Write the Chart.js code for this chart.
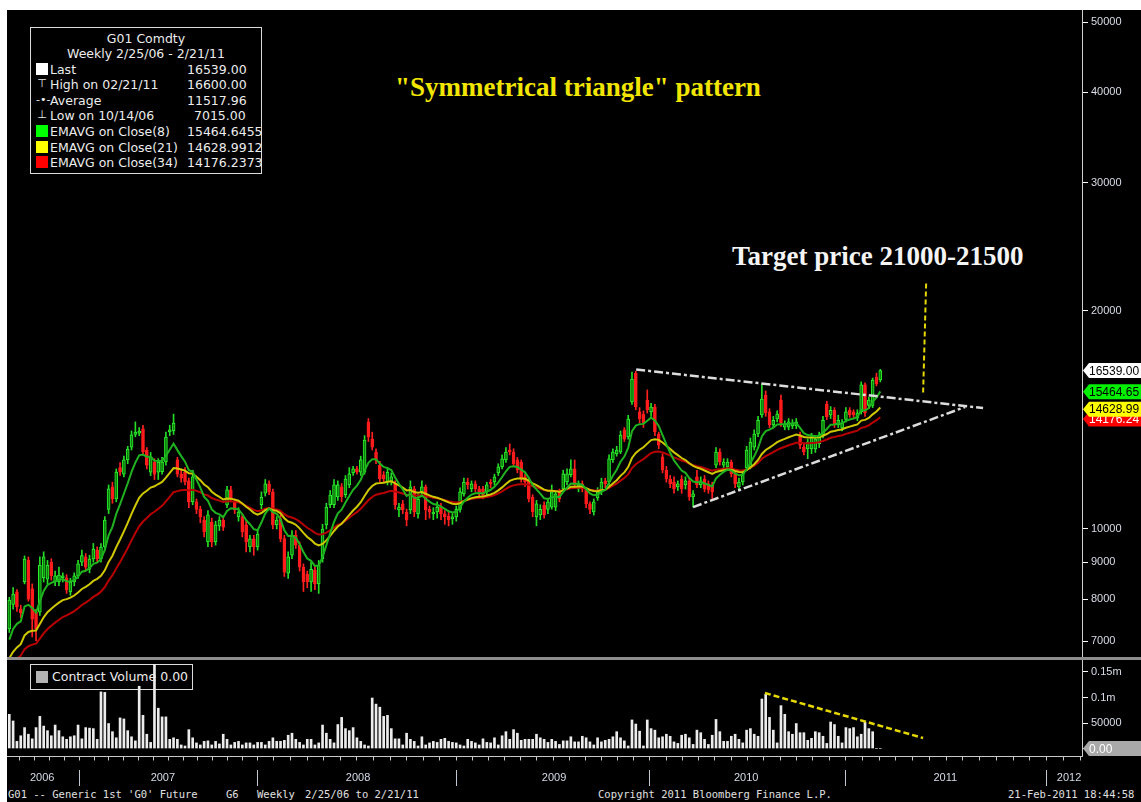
<!DOCTYPE html>
<html>
<head>
<meta charset="utf-8">
<title>G01 Comdty weekly</title>
<script src="https://cdn.jsdelivr.net/npm/chart.js@4.4.1/dist/chart.umd.min.js"></script>
<style>
  body { margin: 0; background: #fff; width: 1141px; height: 802px; overflow: hidden; }
  #panel { position: absolute; left: 7px; top: 10px; width: 1134px; height: 792px; background: #000; overflow: hidden;
           font-family: "DejaVu Sans", sans-serif; color: #ececec; }
  canvas { position: absolute; left: 0; z-index: 2; }
  #price { top: 0; }
  #volume { top: 650px; }
  #split { position: absolute; left: 0; top: 647px; width: 1134px; height: 3px; background: #8e8e8e; z-index: 3; }
  .box { position: absolute; border: 1px solid #dcdcdc; z-index: 1; font-size: 12.5px; white-space: nowrap; }
  .box .c { position: absolute; left: 0; width: 100%; text-align: center; line-height: 15px; }
  .row { position: absolute; left: 0; right: 0; height: 15px; line-height: 15px; }
  .ico { position: absolute; left: 5px; top: 1px; width: 12px; height: 12px; text-align: center; font-size: 11px; line-height: 12px; }
  .lab { position: absolute; left: 19px; }
  .val { position: absolute; left: 156px; }
  .note { position: absolute; z-index: 1; font-family: "Liberation Serif", serif; font-weight: bold; white-space: nowrap; }
  #foot span { position: absolute; top: 777px; line-height: 14px; font-family: "DejaVu Sans Mono", monospace; font-size: 10.5px; color: #e0e0e0; white-space: pre; }
</style>
</head>
<body>
<div id="panel">
  <div class="box" id="legend" style="left:23px;top:17px;width:230px;height:145px;">
    <div class="c" style="top:3px">G01 Comdty</div>
    <div class="c" style="top:18px">Weekly 2/25/06 - 2/21/11</div>
  </div>
  <div class="box" style="left:23px;top:654px;width:161px;height:24px;">
    <div class="ico" style="left:5px;top:6px;background:#b4b4b4"></div>
    <div class="lab" style="left:21px;top:4px">Contract Volume 0.00</div>
  </div>
  <div class="note" style="left:388px;top:62px;font-size:27px;color:#f2e600">"Symmetrical triangle" pattern</div>
  <div class="note" style="left:725px;top:231px;font-size:27px;color:#f4f4f4">Target price 21000-21500</div>
  <canvas id="price" width="1134" height="647"></canvas>
  <div id="split"></div>
  <canvas id="volume" width="1134" height="130"></canvas>
  <div id="foot">
    <span style="left:1px">G01 -- Generic 1st 'G0' Future</span>
    <span style="left:219px">G6</span>
    <span style="left:250px">Weekly</span>
    <span style="left:298px">2/25/06 to 2/21/11</span>
    <span style="left:591px">Copyright 2011 Bloomberg Finance L.P.</span>
    <span style="left:1001px">21-Feb-2011 18:44:58</span>
  </div>
</div>

<script>
// weekly candles (Sep 2006 - Feb 2011)
const opens = [
  7280,7870,8190,7760,8450,9060,8270,7680,7680,8560,
  8530,9005,8450,8450,8560,8560,8190,8450,8620,9000,
  9150,8800,9090,9350,9090,9445,10640,11430,11000,12150,
  11900,12450,12970,13500,13550,13740,12850,11980,12370,11980,
  12000,12370,13610,13650,12450,11900,11980,11650,10900,10900,
  10640,10290,9600,10225,9600,10100,10290,10790,11320,10900,
  10390,10390,10130,9445,9690,9445,10800,11200,11540,11250,
  10130,10330,9700,8690,9200,9810,9500,8860,8660,8450,
  8780,8400,9100,10130,10800,10800,11070,11430,11150,11500,
  11950,12100,11980,11980,14050,13300,12770,12250,11880,11610,
  11610,11540,10620,10830,10555,10620,11360,10490,11250,11430,
  10640,10500,10555,10720,10490,10420,10330,10390,10640,11180,
  11610,11360,11540,11360,11360,11250,11610,11610,11950,12180,
  12450,12850,12770,12450,12370,11800,11650,11070,10390,10460,
  10790,10640,10720,10720,11250,11360,11610,11880,12100,11360,
  11540,11320,10830,10555,11040,11250,11650,11610,12450,12690,
  12770,13700,13390,14970,16400,14500,14400,15060,14500,14730,
  13500,12570,12060,11720,11610,11430,11720,11500,11650,11070,
  11800,11500,11720,11540,11500,12250,12770,12250,12180,12370,
  11910,11430,11610,12150,12180,12970,13520,14360,15300,14500,
  13920,14180,15060,13820,13820,13870,13870,13480,12970,12890,
  12890,12890,13100,13480,14850,14360,14580,13920,13780,14160,
  14580,14500,14230,14500,15800,14800,14800,16200,16050
];
const closes = [
  7980,8130,7810,7660,9090,8000,7510,7280,8920,9150,
  8920,8620,8620,8640,8620,8240,8450,8620,8950,9190,
  8860,9090,9380,9090,9445,10290,11360,11000,11980,11980,
  12450,12890,13480,13600,13650,12770,12250,12570,11900,12370,
  12370,13390,13700,14000,11900,11750,11610,10900,11800,10640,
  10390,9905,10460,9600,10130,10290,10060,11320,11000,10620,
  10555,9905,9600,9690,9445,9840,11070,11540,11250,10130,
  10290,9700,8720,9150,9810,9500,8860,8450,8450,8800,
  8400,8920,10000,10720,11140,11500,11500,11070,11720,11910,
  12100,12000,12450,13260,13390,12970,12450,11720,11720,11980,
  11800,10800,10720,10620,10290,11430,10555,11000,11430,10620,
  10555,10540,10720,10490,10390,10300,10390,10640,11250,11610,
  11500,11540,11360,11250,11140,11500,11540,11800,12180,12490,
  12770,12770,12300,12060,11720,11610,11000,10555,10830,10640,
  10460,10900,11250,11180,11000,11910,11910,12100,11500,11540,
  11360,10830,10640,10900,11250,11610,11540,12490,12770,12850,
  13470,13300,14180,16100,14730,14180,14000,14600,14730,13610,
  13050,12060,11720,11540,11360,11540,11360,11650,11070,11180,
  11500,11650,11360,11320,11250,12770,12370,12370,12370,11910,
  11540,11610,11910,12850,13180,13520,14120,15100,14450,13920,
  14120,14400,14000,13950,14050,14000,14050,13050,12770,13180,
  13390,13300,13480,14120,14270,14580,13960,14120,14000,14500,
  14360,14360,14450,15800,14450,15060,16050,15850,16539
];
const highs = [
  8050,8300,8250,7850,9180,9150,8400,7750,9150,9300,
  9050,9100,8750,8860,8700,8650,8550,8700,9050,9350,
  9250,9200,9550,9450,9550,10400,11500,11600,12100,12350,
  12600,13000,13650,14050,13800,13900,12950,12750,12500,12500,
  12550,13600,13900,14400,12550,12100,12150,11750,12050,11000,
  10750,10400,10600,10350,10250,10400,10400,11450,11450,11000,
  10700,10500,10250,9800,9800,9950,11250,11700,11650,11350,
  10400,10450,9800,9300,9950,9950,9600,8950,8750,9000,
  8900,9050,10150,10850,11300,11700,11650,11550,11850,12150,
  12200,12200,12600,13450,14200,13600,12900,12400,12000,12150,
  11950,11650,10850,10950,10650,11650,11450,11150,11650,11500,
  10750,10700,10900,10850,10600,10550,10500,10750,11400,11750,
  11750,11650,11650,11450,11450,11600,11700,11900,12300,12650,
  12950,13100,12900,12550,12450,11900,11750,11150,10950,10800,
  10900,11000,11500,11300,11350,12050,12100,12450,12450,11650,
  11650,11400,10900,11000,11400,11750,11750,12650,12900,13000,
  13650,13800,14350,16450,16500,14700,14550,15550,14900,14850,
  13600,12700,12200,11850,11800,11650,11850,11800,11750,11300,
  12050,11800,11850,11650,11600,12950,12900,12500,12500,12450,
  12000,11750,12050,13000,13350,13700,14300,15850,15500,14650,
  14300,14550,15300,14100,14200,14150,14200,13600,13100,13300,
  13550,13450,13600,14300,15000,14750,14700,14350,14150,14700,
  14700,14600,14600,15950,15900,15200,16150,16400,16600
];
const lows = [
  7200,7750,7700,7550,8400,7950,7100,7015,7600,8450,
  8400,8500,8350,8350,8450,8150,8100,8350,8550,8900,
  8750,8700,9000,9000,9000,9350,10500,10850,10900,11850,
  11800,12300,12850,13400,13450,12650,12100,11850,11700,11700,
  11900,12250,13450,13500,11800,11600,11500,10700,10800,10500,
  10200,9750,9450,9450,9500,9950,9950,10700,10900,10500,
  10250,9750,9300,9300,9200,9350,10650,11100,11150,10000,
  10000,9600,8600,8550,9100,9400,8750,8200,8300,8200,
  8250,8150,9000,10000,10700,10700,10950,10900,11050,11400,
  11850,11900,11850,11900,13200,12850,12300,11600,11600,11500,
  11500,10650,10400,10500,10100,10500,10400,10350,11100,10300,
  10350,10300,10350,10300,10150,10100,10150,10250,10550,11100,
  11350,11250,11250,11100,11000,11150,11400,11500,11850,12100,
  12350,12650,12200,11950,11600,11450,10900,10400,10100,10300,
  10350,10500,10650,10600,10900,11250,11500,11800,11400,11250,
  11250,10700,10500,10450,10950,11150,11400,11500,12350,12600,
  12700,13200,13300,14850,14600,14000,13800,14450,14300,13450,
  12900,11950,11600,11400,11200,11300,11200,11350,10950,10720,
  11400,11400,11250,11200,11000,12150,12250,12150,12050,11800,
  11400,11300,11500,12050,12100,12850,13400,14250,14300,13800,
  13800,14050,13850,13700,13700,13750,13750,12900,12650,12500,
  12700,12750,12950,13350,14150,14200,13800,13800,13650,14050,
  14250,14250,14100,14400,14300,14650,14700,15750,15950
];
// contract volume per week, in thousands
const volumeK = [
  67,54,14,25,41,28,19,41,63,44, 35,25,46,35,23,18,23,25,46,19,
  41,40,39,18,111,110,49,33,21,60, 58,35,23,15,122,65,28,12,165,79,
  62,62,18,21,18,7,5,37,21,11, 7,14,15,7,14,9,28,18,7,12,
  14,7,11,11,7,12,12,7,14,21, 14,14,16,26,30,18,12,7,18,18,
  7,11,46,30,18,11,47,61,39,35, 41,21,14,7,5,99,87,81,63,65,
  39,19,19,7,30,18,14,5,23,7, 11,14,12,18,20,14,12,11,7,5,
  18,14,11,7,19,12,11,21,7,25, 33,18,37,30,16,18,18,18,28,21,
  18,12,18,14,
  8,15,15,23,13,13,24,21,13,7, 21,13,16,18,23,33,21,15,5,56,
  48,34,5,56,39,36,21,23,28,24, 13,10,26,28,21,8,36,31,18,8,
  26,57,33,14,14,24,28,18,11,36, 39,28,24,97,106,61,36,11,84,67,
  33,28,49,31,31,16,20,33,31,24, 10,52,47,24,11,41,39,41,23,28,
  52,39,33,0,0
];

const emaSpans = [8, 21, 34];
const emaSeeds = [6770, 6500, 6370];          // level of each average just before the first visible week
const emaColors = ['#1fb41f', '#cfc800', '#b80000'];
const emaLast = [15464.6455, 14628.9912, 14176.2373];

const priceTicks = [7000, 8000, 9000, 10000, 20000, 30000, 40000, 50000];
const volTicks = [0, 25000, 50000, 75000, 100000, 125000, 150000];
const volTickText = { 50000: '50000', 100000: '0.1m', 150000: '0.15m' };

// time axis, in week units of the candle index
const yearLabels = ['2006', '2007', '2008', '2009', '2010', '2011', '2012'];
const yearLabelPos = [8.6, 40.2, 91.3, 142.6, 192.9, 245.0, 277.4];
const yearSepPos = [18.2, 64.8, 116.9, 167.5, 218.8, 271.4];

// hand-drawn annotations [week, value]
const triUpper = [[164.1, 16590], [254.9, 14680]];
const triLower = [[179.0, 10720], [250.2, 14730]];
const targetLine = [[240.0, 21800], [239.2, 15350]];
const volTrend = [[197.8, 108800], [239.2, 20600]];

const legendRows = [
  { label: 'Last', value: '16539.00', icon: 'sq', color: '#ffffff' },
  { label: 'High on 02/21/11', value: '16600.00', icon: '\u22A4' },
  { label: 'Average', value: '11517.96', icon: '-\u2022-' },
  { label: 'Low on 10/14/06', value: '7015.00', icon: '\u22A5', pad: 7 },
  { label: 'EMAVG on Close(8)', value: '15464.6455', icon: 'sq', color: '#00ff00' },
  { label: 'EMAVG on Close(21)', value: '14628.9912', icon: 'sq', color: '#ffff00' },
  { label: 'EMAVG on Close(34)', value: '14176.2373', icon: 'sq', color: '#ff0000' }
];

const X_MIN = -0.6, X_MAX = 280.8;
const Y_MIN = 6660, Y_MAX = 51950;
const AXIS_W = 59;

// legend box rows
const legend = document.getElementById('legend');
legendRows.forEach((r, i) => {
  const row = document.createElement('div');
  row.className = 'row';
  row.style.top = (33.5 + 15.6 * i) + 'px';
  const ico = r.icon === 'sq'
    ? `<div class="ico" style="background:${r.color}"></div>`
    : `<div class="ico">${r.icon}</div>`;
  row.innerHTML = `${ico}<span class="lab">${r.label}</span><span class="val" style="margin-left:${r.pad || 0}px">${r.value}</span>`;
  legend.appendChild(row);
});

function ema(values, span, seed) {
  const k = 2 / (span + 1);
  let prev = seed;
  return values.map(v => (prev = prev + k * (v - prev)));
}
const pts = arr => arr.map(([x, y]) => ({ x, y }));

const upFill = '#0b7d0b', upLine = '#2df02d', dnFill = '#ff1c1c';
const idx = closes.map((_, i) => i);
const isUp = idx.map(i => closes[i] >= opens[i]);

// fixed axis width and no label overhang, so both panels share one x range
const fixWidth = s => { s.width = AXIS_W; s.paddingTop = 0; s.paddingBottom = 0; };
const dashed = (data, color, width, dash) => ({
  type: 'line', data: pts(data), borderColor: color, borderWidth: width,
  borderDash: dash, pointRadius: 0, order: 0
});

function tag(ctx, x, y, text, bg, fg) {
  ctx.beginPath();
  ctx.moveTo(x, y);
  ctx.lineTo(x + 6, y - 7.5);
  ctx.lineTo(x + 80, y - 7.5);
  ctx.lineTo(x + 80, y + 7.5);
  ctx.lineTo(x + 6, y + 7.5);
  ctx.closePath();
  ctx.fillStyle = bg;
  ctx.fill();
  ctx.fillStyle = fg;
  ctx.font = '12px "Liberation Sans"';
  ctx.textBaseline = 'middle';
  ctx.textAlign = 'left';
  ctx.fillText(text, x + 6, y + 1);
}

const priceTags = {
  id: 'priceTags',
  afterDraw(chart) {
    const { ctx, chartArea: a, scales: { y } } = chart;
    const x = a.right + 1;
    ctx.save();
    for (let k = emaLast.length - 1; k >= 0; k--) {
      const bg = ['#00f000', '#ffff00', '#ff0000'][k];
      tag(ctx, x, y.getPixelForValue(emaLast[k]), emaLast[k].toFixed(2), bg, k === 2 ? '#ffffff' : '#000000');
    }
    const last = closes[closes.length - 1];
    tag(ctx, x, y.getPixelForValue(last), last.toFixed(2), '#ffffff', '#000000');
    ctx.restore();
  }
};

new Chart(document.getElementById('price'), {
  type: 'bar',
  data: {
    datasets: [
      dashed(triUpper, '#dcdcdc', 2.5, [9, 3, 3, 3]),
      dashed(triLower, '#dcdcdc', 2.5, [9, 3, 3, 3]),
      dashed(targetLine, '#e6d800', 2, [5, 3]),
      ...emaSpans.map((n, k) => ({
        type: 'line',
        data: ema(closes, n, emaSeeds[k]).map((v, i) => ({ x: i, y: v })),
        borderColor: emaColors[k], borderWidth: 2, pointRadius: 0, order: 1 + k
      })),
      {
        data: idx.map(i => ({ x: i, y: [lows[i], highs[i]] })),
        backgroundColor: idx.map(i => isUp[i] ? '#25dc25' : '#ff2020'),
        barThickness: 1, grouped: false, order: 6
      },
      {
        data: idx.map(i => ({ x: i, y: [opens[i], closes[i]] })),
        backgroundColor: idx.map(i => isUp[i] ? upFill : dnFill),
        borderColor: idx.map(i => isUp[i] ? upLine : dnFill),
        borderWidth: 1, borderSkipped: false, barThickness: 3, grouped: false, order: 5
      }
    ]
  },
  options: {
    responsive: false, animation: false, events: [],
    layout: { padding: 0 },
    plugins: { legend: { display: false }, tooltip: { enabled: false } },
    scales: {
      x: { type: 'linear', min: X_MIN, max: X_MAX, display: false, offset: false },
      y: {
        type: 'logarithmic', position: 'right', min: Y_MIN, max: Y_MAX,
        afterBuildTicks: s => { s.ticks = priceTicks.map(v => ({ value: v })); },
        afterFit: fixWidth,
        grid: { drawOnChartArea: false, tickLength: 6, color: '#ffffff' },
        border: { display: true, color: '#cfcfcf', width: 1 },
        ticks: { color: '#d9dde7', font: { family: 'Liberation Sans', size: 11 }, padding: 3,
                 callback: v => String(v) }
      }
    }
  },
  plugins: [priceTags]
});

function monthTicks() {
  const out = [];
  const n = yearSepPos.length;
  const first = (yearSepPos[1] - yearSepPos[0]) / 12;
  for (let v = yearSepPos[0] - first; v >= X_MIN; v -= first) out.push(v);
  for (let s = 0; s < n - 1; s++) {
    const step = (yearSepPos[s + 1] - yearSepPos[s]) / 12;
    for (let m = 0; m < 12; m++) out.push(yearSepPos[s] + m * step);
  }
  const lastStep = (yearSepPos[n - 1] - yearSepPos[n - 2]) / 12;
  for (let v = yearSepPos[n - 1]; v <= X_MAX; v += lastStep) out.push(v);
  return out;
}

const timeAxis = {
  id: 'timeAxis',
  afterDraw(chart) {
    const { ctx, chartArea: a, scales: { x, y } } = chart;
    const base = a.bottom + 1.5;
    ctx.save();
    ctx.strokeStyle = '#c8c8c8';
    ctx.lineWidth = 1;
    ctx.beginPath();
    ctx.moveTo(a.left, base);
    ctx.lineTo(a.right + 1, base);
    monthTicks().forEach(v => {
      const px = Math.round(x.getPixelForValue(v)) + 0.5;
      ctx.moveTo(px, base);
      ctx.lineTo(px, base + 4);
    });
    ctx.stroke();

    ctx.strokeStyle = '#bfc6d2';
    ctx.beginPath();
    yearSepPos.forEach(v => {
      const px = Math.round(x.getPixelForValue(v)) + 0.5;
      ctx.moveTo(px, 110);
      ctx.lineTo(px, 126);
    });
    ctx.stroke();

    ctx.fillStyle = '#d4dbe8';
    ctx.font = '11px "Liberation Sans"';
    ctx.textAlign = 'center';
    ctx.textBaseline = 'middle';
    yearLabels.forEach((t, k) => ctx.fillText(t, x.getPixelForValue(yearLabelPos[k]), 118));

    tag(ctx, a.right + 1, y.getPixelForValue(0), (volumeK[volumeK.length - 1] * 1000).toFixed(2), '#a9a9a9', '#ffffff');
    ctx.restore();
  }
};

new Chart(document.getElementById('volume'), {
  type: 'bar',
  data: {
    datasets: [
      dashed(volTrend, '#e6d800', 2.5, [6, 3]),
      {
        data: idx.map(i => ({ x: i, y: volumeK[i] * 1000 })),
        backgroundColor: '#ececec', barThickness: 2, grouped: false, order: 2
      }
    ]
  },
  options: {
    responsive: false, animation: false, events: [],
    layout: { padding: { top: 0, left: 0, right: 0, bottom: 35 } },
    plugins: { legend: { display: false }, tooltip: { enabled: false } },
    scales: {
      x: { type: 'linear', min: X_MIN, max: X_MAX, display: false, offset: false },
      y: {
        position: 'right', min: -12700, max: 173500,
        afterBuildTicks: s => { s.ticks = volTicks.map(v => ({ value: v })); },
        afterFit: fixWidth,
        grid: { drawOnChartArea: false, tickLength: 6, color: '#ffffff' },
        border: { display: true, color: '#cfcfcf', width: 1 },
        ticks: { color: '#d9dde7', font: { family: 'Liberation Sans', size: 11 }, padding: 3,
                 callback: v => volTickText[v] || '' }
      }
    }
  },
  plugins: [timeAxis]
});
</script>
</body>
</html>
